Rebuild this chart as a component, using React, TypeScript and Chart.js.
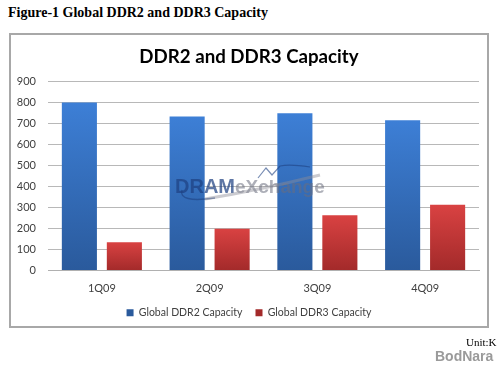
import React, { useEffect, useRef } from "react";
import { Chart, registerables } from "chart.js";

Chart.register(...registerables);

const categories = ["1Q09", "2Q09", "3Q09", "4Q09"];
const ddr2Values = [800, 733, 749, 715];
const ddr3Values = [135, 199, 263, 313];
const seriesLabels = ["Global DDR2 Capacity", "Global DDR3 Capacity"];
const yTicks = [0, 100, 200, 300, 400, 500, 600, 700, 800, 900];

const FONT = "Lato, 'Open Sans', sans-serif";

function barGradient(top: string, bottom: string) {
  return (ctx: any) => {
    const chart = ctx.chart;
    const y = chart.scales && chart.scales.y;
    if (!y || ctx.parsed == null || !chart.chartArea) return top;
    const yTop = y.getPixelForValue(ctx.parsed.y);
    const yBot = y.getPixelForValue(0);
    if (!isFinite(yTop) || !isFinite(yBot) || yTop === yBot) return top;
    const g = chart.ctx.createLinearGradient(0, yTop, 0, yBot);
    g.addColorStop(0, top);
    g.addColorStop(1, bottom);
    return g;
  };
}

const watermark = {
  id: "watermark",
  afterDatasetsDraw(chart: any) {
    const c = chart.ctx;
    c.save();
    const x0 = 175;
    const base = 193;
    c.font = "bold 20px 'Liberation Sans', Arial, sans-serif";
    c.textBaseline = "alphabetic";
    c.fillStyle = "rgba(30,65,130,0.72)";
    c.fillText("DRAM", x0, base);
    const w = c.measureText("DRAM").width;
    c.font = "bold 19px 'Liberation Sans', Arial, sans-serif";
    c.fillStyle = "rgba(105,110,125,0.55)";
    c.fillText("eXchange", x0 + w, base);
    c.strokeStyle = "rgba(30,65,130,0.6)";
    c.lineWidth = 1.5;
    c.beginPath();
    c.moveTo(182, 190);
    c.quadraticCurveTo(178, 203, 215, 198);
    c.stroke();
    c.strokeStyle = "rgba(140,140,150,0.45)";
    c.lineWidth = 3;
    c.beginPath();
    c.moveTo(205, 199);
    c.quadraticCurveTo(260, 190, 320, 175);
    c.stroke();
    c.strokeStyle = "rgba(30,65,130,0.6)";
    c.lineWidth = 1.2;
    c.beginPath();
    c.moveTo(258, 178);
    c.lineTo(266, 168);
    c.lineTo(272, 175);
    c.lineTo(280, 166);
    c.quadraticCurveTo(290, 164, 310, 167);
    c.stroke();
    c.restore();
  },
};

export default function App() {
  const ref = useRef<HTMLCanvasElement | null>(null);

  useEffect(() => {
    if (!ref.current) return;
    const chart = new Chart(ref.current, {
      type: "bar",
      data: {
        labels: categories,
        datasets: [
          {
            label: seriesLabels[0],
            data: ddr2Values,
            backgroundColor: barGradient("#3d7fd6", "#2a5a9c"),
            borderWidth: 0,
            categoryPercentage: 0.835,
            barPercentage: 0.78,
          },
          {
            label: seriesLabels[1],
            data: ddr3Values,
            backgroundColor: barGradient("#d94242", "#a32a2a"),
            borderWidth: 0,
            categoryPercentage: 0.835,
            barPercentage: 0.78,
          },
        ],
      },
      options: {
        responsive: false,
        animation: false,
        layout: { padding: { left: 19, right: 21, top: 36, bottom: 40 } },
        plugins: {
          title: {
            display: true,
            text: "DDR2 and DDR3 Capacity",
            font: { family: FONT, size: 18.7, weight: "bold" },
            color: "#000",
            padding: { top: 10, bottom: 13 },
          },
          legend: {
            position: "bottom",
            labels: {
              boxWidth: 7,
              boxHeight: 7,
              padding: 13,
              font: { family: FONT, size: 10.5 },
              color: "#404040",
            },
          },
          tooltip: { enabled: false },
        },
        scales: {
          x: {
            afterFit: (scale: any) => {
              scale.height = 24;
              scale._computeLabelArea = () => undefined;
            },
            grid: { display: false, drawTicks: false },
            border: { display: true, color: "#b0b0b0" },
            ticks: { font: { family: FONT, size: 11 }, color: "#404040", padding: 11 },
          },
          y: {
            min: 0,
            max: 900,
            afterBuildTicks: (scale: any) => {
              scale.ticks = yTicks.map((v) => ({ value: v }));
            },
            afterFit: (scale: any) => {
              scale.width = 29;
              scale._computeLabelArea = () => undefined;
            },
            grid: { color: "#b8b8b8", drawTicks: false },
            border: { display: false },
            ticks: { font: { family: FONT, size: 11 }, color: "#404040", padding: 12 },
          },
        },
      },
      plugins: [watermark],
    });
    return () => chart.destroy();
  }, []);

  return (
    <div
      style={{
        position: "absolute",
        left: 0,
        top: 0,
        width: 500,
        height: 368,
        background: "#fff",
        overflow: "hidden",
      }}
    >
      <div
        style={{
          position: "absolute",
          left: 8,
          top: 5,
          fontFamily: "'Liberation Serif', 'Times New Roman', serif",
          fontWeight: "bold",
          fontSize: 14,
          color: "#000",
          whiteSpace: "nowrap",
        }}
      >
        Figure-1 Global DDR2 and DDR3 Capacity
      </div>
      <div
        style={{
          position: "absolute",
          left: 9,
          top: 33,
          width: 476,
          height: 291,
          border: "2px solid #a8a8a8",
        }}
      />
      <canvas
        ref={ref}
        width={500}
        height={368}
        style={{ position: "absolute", left: 0, top: 0, width: 500, height: 368 }}
      />
      <div
        style={{
          position: "absolute",
          left: 466,
          top: 336,
          fontFamily: "'Liberation Serif', serif",
          fontSize: 11,
          color: "#000",
        }}
      >
        Unit:K
      </div>
      <div
        style={{
          position: "absolute",
          left: 435,
          top: 348,
          fontFamily: "'Liberation Sans', Arial, sans-serif",
          fontWeight: "bold",
          fontSize: 14,
          color: "#9a9a9a",
          whiteSpace: "nowrap",
        }}
      >
        BodNara
      </div>
    </div>
  );
}
